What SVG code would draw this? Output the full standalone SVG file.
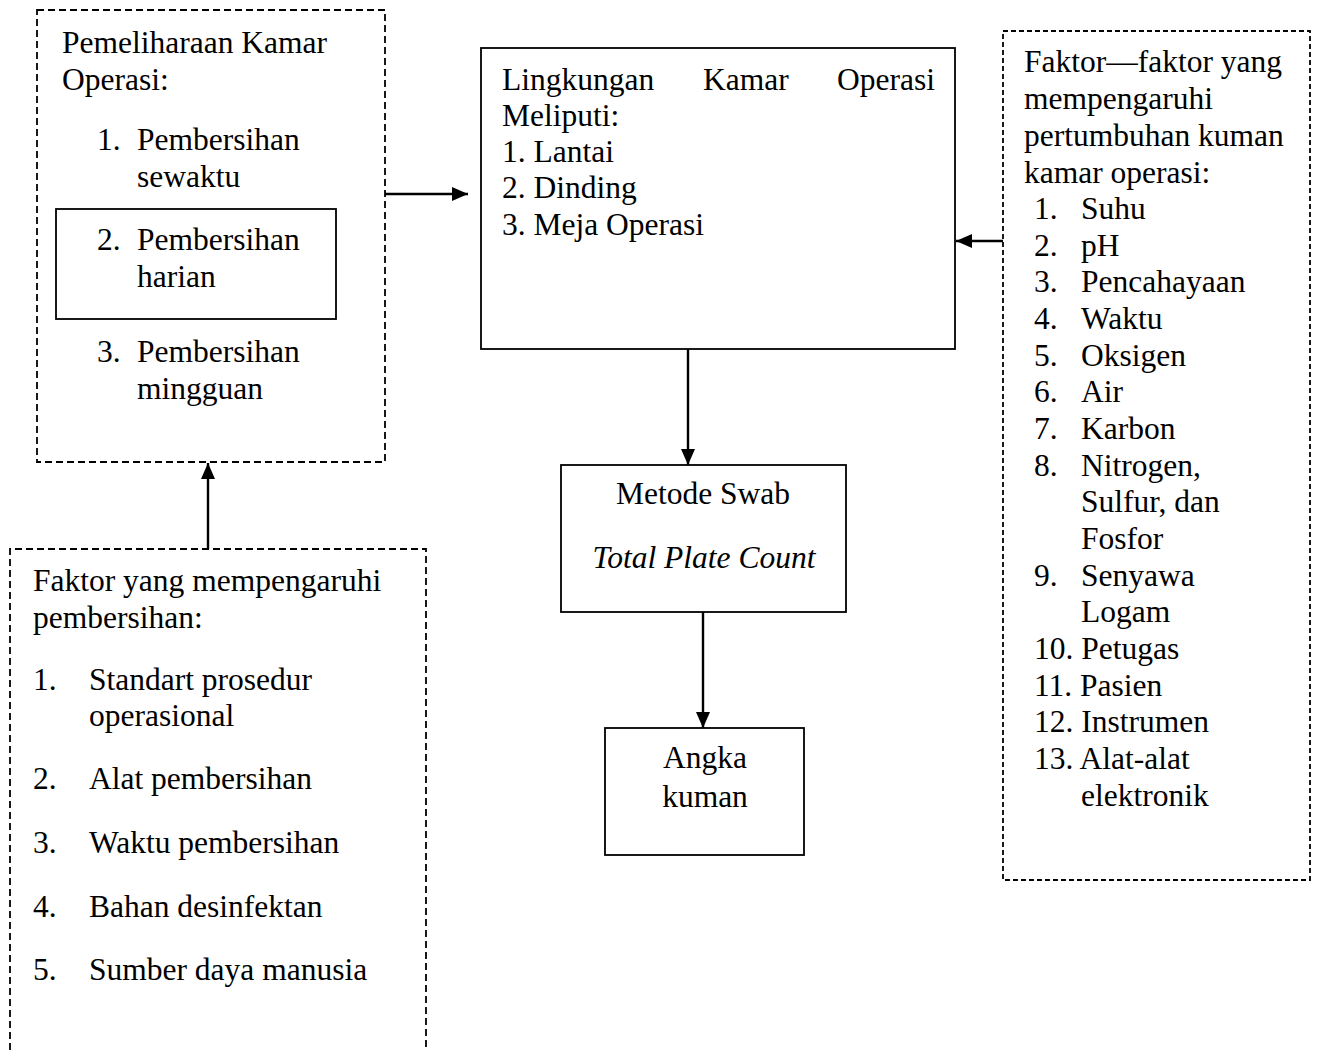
<svg xmlns="http://www.w3.org/2000/svg" width="1318" height="1050" viewBox="0 0 1318 1050">
<style>
text{font-family:"Liberation Serif","Times New Roman",serif;font-size:31.5px;fill:#000}
.it{font-style:italic}
.mid{text-anchor:middle}
.dash{fill:none;stroke:#000;stroke-width:1.8;stroke-dasharray:7 4}
.dash2{fill:none;stroke:#000;stroke-width:1.8;stroke-dasharray:5 3}
.solid{fill:none;stroke:#000;stroke-width:1.8}
.conn{stroke:#000;stroke-width:2.4;fill:none;marker-end:url(#arr)}
</style>
<defs>
<marker id="arr" markerUnits="userSpaceOnUse" markerWidth="16" markerHeight="14" refX="16" refY="7" orient="auto">
<path d="M0,0 L16,7 L0,14 z" fill="#000"/>
</marker>
</defs>
<rect width="1318" height="1050" fill="#fff"/>
<g id="pemeliharaan">
<rect class="dash" x="37" y="10" width="348" height="452"/>
<text x="62" y="53">Pemeliharaan Kamar</text>
<text x="62" y="90">Operasi:</text>
<text x="97" y="150">1.</text><text x="137" y="150">Pembersihan</text>
<text x="137" y="187">sewaktu</text>
<rect class="solid" x="56" y="209" width="280" height="110"/>
<text x="97" y="250">2.</text><text x="137" y="250">Pembersihan</text>
<text x="137" y="287">harian</text>
<text x="97" y="362">3.</text><text x="137" y="362">Pembersihan</text>
<text x="137" y="399">mingguan</text>
</g>
<g id="lingkungan">
<rect class="solid" x="481" y="48" width="474" height="301"/>
<text x="502" y="90">Lingkungan</text>
<text x="703" y="90">Kamar</text>
<text x="935" y="90" text-anchor="end">Operasi</text>
<text x="502" y="126">Meliputi:</text>
<text x="502" y="162">1. Lantai</text>
<text x="502" y="198">2. Dinding</text>
<text x="502" y="235">3. Meja Operasi</text>
</g>
<g id="faktor-kuman">
<rect class="dash2" x="1003" y="31" width="307" height="849"/>
<text x="1024" y="72">Faktor—faktor yang</text>
<text x="1024" y="109">mempengaruhi</text>
<text x="1024" y="146">pertumbuhan kuman</text>
<text x="1024" y="183">kamar operasi:</text>
<text x="1034" y="219">1.</text><text x="1081" y="219">Suhu</text>
<text x="1034" y="256">2.</text><text x="1081" y="256">pH</text>
<text x="1034" y="292">3.</text><text x="1081" y="292">Pencahayaan</text>
<text x="1034" y="329">4.</text><text x="1081" y="329">Waktu</text>
<text x="1034" y="366">5.</text><text x="1081" y="366">Oksigen</text>
<text x="1034" y="402">6.</text><text x="1081" y="402">Air</text>
<text x="1034" y="439">7.</text><text x="1081" y="439">Karbon</text>
<text x="1034" y="476">8.</text><text x="1081" y="476">Nitrogen,</text>
<text x="1081" y="512">Sulfur, dan</text>
<text x="1081" y="549">Fosfor</text>
<text x="1034" y="586">9.</text><text x="1081" y="586">Senyawa</text>
<text x="1081" y="622">Logam</text>
<text x="1034" y="659">10. Petugas</text>
<text x="1034" y="696">11. Pasien</text>
<text x="1034" y="732">12. Instrumen</text>
<text x="1034" y="769">13. Alat-alat</text>
<text x="1081" y="806">elektronik</text>
</g>
<g id="metode">
<rect class="solid" x="561" y="465" width="285" height="147"/>
<text class="mid" x="703" y="504">Metode Swab</text>
<text class="mid it" x="704" y="568">Total Plate Count</text>
</g>
<g id="angka">
<rect class="solid" x="605" y="728" width="199" height="127"/>
<text class="mid" x="705" y="768">Angka</text>
<text class="mid" x="705" y="807">kuman</text>
</g>
<g id="faktor-pembersihan">
<path class="dash" d="M10,1050 V549 H426 V1050"/>
<text x="33" y="591">Faktor yang mempengaruhi</text>
<text x="33" y="628">pembersihan:</text>
<text x="33" y="690">1.</text><text x="89" y="690">Standart prosedur</text>
<text x="89" y="726">operasional</text>
<text x="33" y="789">2.</text><text x="89" y="789">Alat pembersihan</text>
<text x="33" y="853">3.</text><text x="89" y="853">Waktu pembersihan</text>
<text x="33" y="917">4.</text><text x="89" y="917">Bahan desinfektan</text>
<text x="33" y="980">5.</text><text x="89" y="980">Sumber daya manusia</text>
</g>
<g id="connectors">
<line class="conn" x1="385" y1="194" x2="468" y2="194"/>
<line class="conn" x1="1003" y1="241" x2="956" y2="241"/>
<line class="conn" x1="688" y1="349" x2="688" y2="465"/>
<line class="conn" x1="703" y1="612" x2="703" y2="728"/>
<line class="conn" x1="208" y1="549" x2="208" y2="463"/>
</g>
</svg>
